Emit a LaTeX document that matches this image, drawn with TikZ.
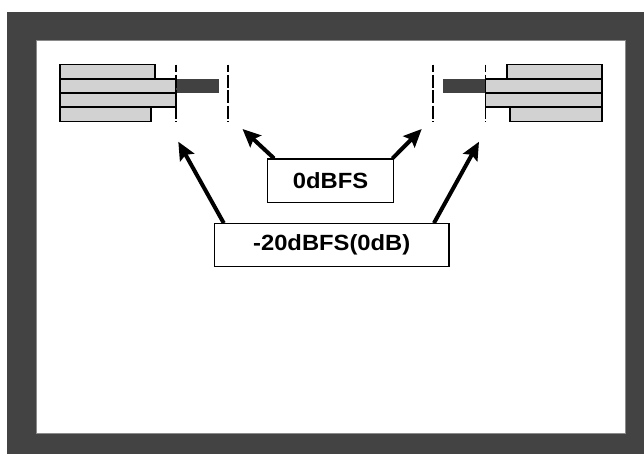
\documentclass[tikz,border=0pt]{standalone}
\usepackage{fontspec}
\usepackage{tikz}
\usetikzlibrary{arrows.meta,calc,positioning}
\newfontfamily\lblfont[FakeStretch=1.08]{Liberation Sans}
\definecolor{frame}{HTML}{434343}
\definecolor{rim}{HTML}{8A8A8A}
\definecolor{barfill}{HTML}{D2D2D2}
\definecolor{peak}{HTML}{414141}
\tikzset{
  levelbox/.style={draw=black,line width=1.2pt,fill=white,inner sep=0pt,
    font=\lblfont\bfseries\fontsize{22}{26}\selectfont},
  ptr/.style={-{Stealth[length=18pt,width=16pt,inset=3pt]},line width=4pt},
  bar/.style={fill=barfill,draw=black,line width=1.6pt},
  mark line/.style={line width=1.6pt,dash pattern=on 13pt off 2.5pt,dash phase=5.5pt}
}

\begin{document}
\begin{tikzpicture}[x=1pt,y=-1pt]
  \useasboundingbox (0,0) rectangle (644,454);
  \fill[frame] (7,12) rectangle (644,454);
  \fill[white,draw=rim,line width=0.8pt] (36,40) rectangle (625,433);
  % left meter
  \foreach \y/\xr in {64.7/154.7,78.9/175.7,93.1/175.7,107.3/151}
    \draw[bar] (60,\y) rectangle (\xr,\y+14.2);
  \fill[peak] (175.7,79.3) rectangle (219,93.3);
  % right meter
  \foreach \y/\xl in {64.7/506.7,78.9/485.3,93.1/485.3,107.3/509.7}
    \draw[bar] (\xl,\y) rectangle (601.7,\y+14.2);
  \fill[peak] (443,79.3) rectangle (485.3,93.3);
  \foreach \x in {175.7,227.7,433,485.3}
    \draw[mark line] (\x,64.7) -- (\x,121.5);
  \coordinate (ref left) at (178.3,141.7);
  \coordinate (full left) at (242.5,129);
  \coordinate (full right) at (421.7,129);
  \coordinate (ref right) at (479,141.7);
  \node[levelbox,minimum width=125.6pt,minimum height=43.3pt] (zero) at (330.5,180.7) {0dBFS};
  \node[levelbox,minimum width=234.7pt,minimum height=42.6pt] (minus) at (331.7,245) {-20dBFS(0dB)};
  \draw[ptr] ([xshift=7pt]zero.north west) -- (full left);
  \draw[ptr] ([xshift=-1.5pt]zero.north east) -- (full right);
  \draw[ptr] ([xshift=10pt]minus.north west) -- (ref left);
  \draw[ptr] ([xshift=-15.7pt]minus.north east) -- (ref right);
\end{tikzpicture}
\end{document}
